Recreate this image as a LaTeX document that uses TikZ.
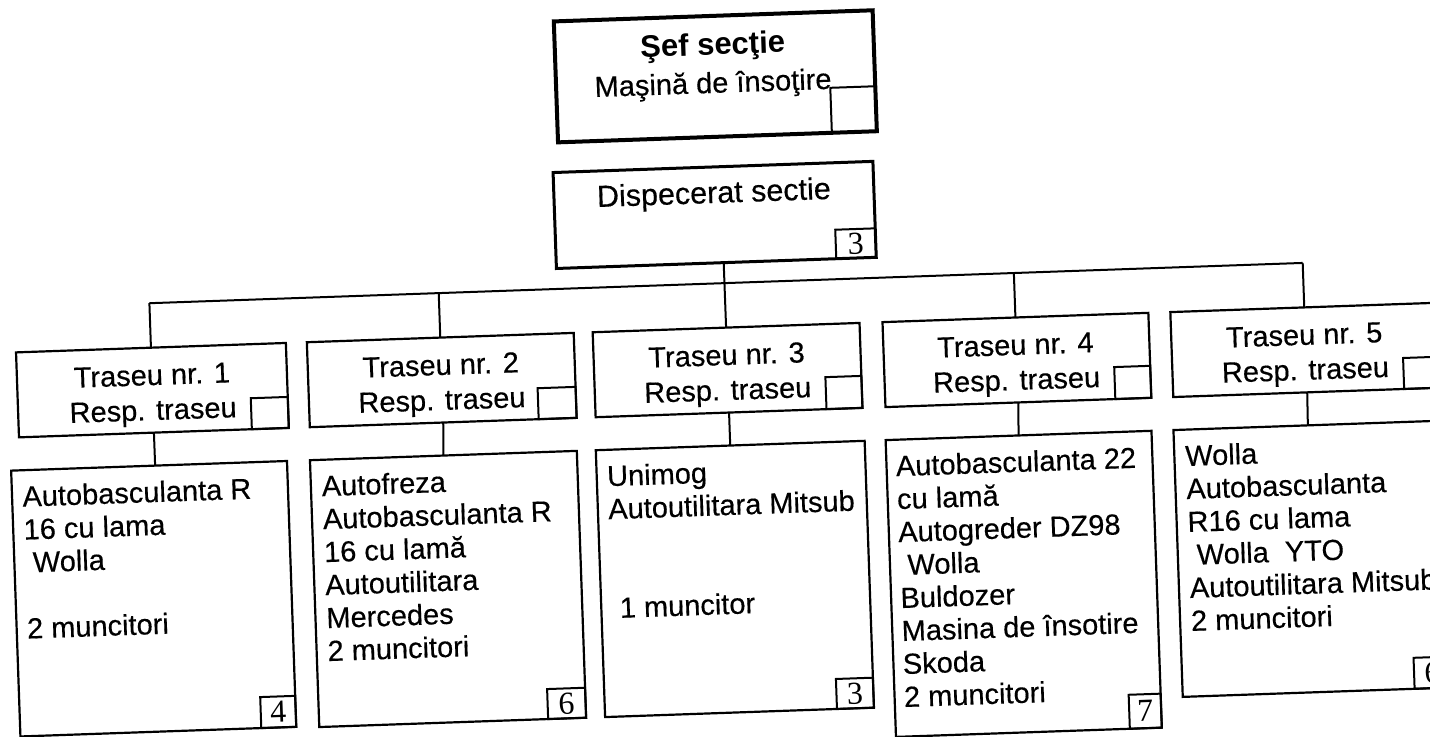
\documentclass[tikz,border=0pt]{standalone}
\usepackage{fontspec}
\setmainfont{Liberation Sans}
\newfontfamily\txt{Liberation Sans}[FakeBold=0.35]
\newfontfamily\numfont{Liberation Serif}
\usetikzlibrary{calc}
\begin{document}
\begin{tikzpicture}[x=0.5pt,y=-0.5pt,
  box/.style={draw, line width=1.1pt, inner sep=0pt, outer sep=0pt},
  sq/.style={draw, line width=1pt, inner sep=0pt, outer sep=0pt, anchor=south east},
  numbox/.style={sq, font=\numfont\fontsize{16}{16}\selectfont},
  body/.style={inner sep=0pt, font=\txt\fontsize{14.5}{16.5}\selectfont, align=left, anchor=north west},
  head/.style={inner sep=0pt, font=\txt\fontsize{14.5}{17.5}\selectfont, align=center, anchor=north},
  link/.style={line width=1pt}]
\useasboundingbox (0,0) rectangle (1430,736);
\clip (0,0) rectangle (1430,736);
\begin{scope}[rotate around={2:(715,368)}, transform shape]
% top boxes
\node[box, line width=2pt, minimum width=159.5pt, minimum height=60.5pt] (sef) at (725.5,76.5) {};
\node[sq, minimum width=22.5pt, minimum height=22.5pt] (sefsq) at (sef.south east) {};
\node[inner sep=0pt, anchor=base, font=\bfseries\fontsize{15.5}{18}\selectfont] (sefT) at (724,55) {Şef secţie};
\node[inner sep=0pt, anchor=base, font=\txt\fontsize{14.5}{17}\selectfont] (sefM) at (723,93) {Maşină de însoţire};

\node[box, line width=1.5pt, minimum width=160pt, minimum height=48pt] (disp) at (720,215) {};
\node[numbox, minimum width=20pt, minimum height=14.5pt] (dispn) at (disp.south east) {3};
\node[inner sep=0pt, anchor=base, font=\txt\fontsize{15.25}{18}\selectfont] (dispT) at (720,203) {Dispecerat sectie};

% route boxes
\node[box, minimum width=135pt, minimum height=42.5pt] (t1) at (152,370.5) {};
\node[box, minimum width=133.5pt, minimum height=42.5pt] (t2) at (441.5,370.5) {};
\node[box, minimum width=133.5pt, minimum height=42.5pt] (t3) at (727.5,370.5) {};
\node[box, minimum width=133pt, minimum height=42.5pt] (t4) at (1017,370.5) {};
\node[box, minimum width=134pt, minimum height=42.5pt] (t5) at (1306,370.5) {};
\node[sq, minimum width=18.5pt, minimum height=15.5pt] (t1s) at (t1.south east) {};
\node[sq, minimum width=19pt, minimum height=15.5pt] (t2s) at (t2.south east) {};
\node[sq, minimum width=18pt, minimum height=16pt] (t3s) at (t3.south east) {};
\node[sq, minimum width=18pt, minimum height=16pt] (t4s) at (t4.south east) {};
\node[sq, minimum width=18.5pt, minimum height=15.5pt] (t5s) at (t5.south east) {};
\node[head] (t1T) at (152,341) {\rule{0pt}{12pt}Traseu nr. 1\\Resp. traseu};
\node[head] (t2T) at (441,341) {\rule{0pt}{12pt}Traseu nr. 2\\Resp. traseu};
\node[head] (t3T) at (727,341) {\rule{0pt}{12pt}Traseu nr. 3\\Resp. traseu};
\node[head] (t4T) at (1016,341) {\rule{0pt}{12pt}Traseu nr. 4\\Resp. traseu};
\node[head] (t5T) at (1305,341) {\rule{0pt}{12pt}Traseu nr. 5\\Resp. traseu};

% equipment boxes
\node[box, minimum width=138pt, minimum height=133pt] (b1) at (146,579) {};
\node[box, minimum width=133.5pt, minimum height=133.5pt] (b2) at (440.5,579.5) {};
\node[box, minimum width=134.5pt, minimum height=133.5pt] (b3) at (727.5,579.5) {};
\node[box, minimum width=133pt, minimum height=148.5pt] (b4) at (1016,594.5) {};
\node[box, minimum width=134.5pt, minimum height=133.5pt] (b5) at (1305.5,579.5) {};
\node[numbox, minimum width=17.5pt, minimum height=15.5pt] (n1) at (b1.south east) {4};
\node[numbox, minimum width=19pt, minimum height=15pt] (n2) at (b2.south east) {6};
\node[numbox, minimum width=18.5pt, minimum height=15pt] (n3) at (b3.south east) {3};
\node[numbox, minimum width=16pt, minimum height=17pt] (n4) at (b4.south east) {7};
\node[numbox, minimum width=18.5pt, minimum height=15.5pt] (n5) at (b5.south east) {6};

\node[body] (b1T) at (18,458) {\rule{0pt}{12pt}Autobasculanta R\\16 cu lama\\\hspace*{.28em}Wolla\\[16.5pt]2 muncitori};
\node[body] (b2T) at (317.5,458) {\rule{0pt}{12pt}Autofreza\\Autobasculanta R\\16 cu lamă\\Autoutilitara\\Mercedes\\2 muncitori};
\node[body] (b3T) at (603,458) {\rule{0pt}{12pt}Unimog\\Autoutilitara Mitsub\\[33pt]\hspace*{.28em}1 muncitor};
\node[body] (b4T) at (892,458) {\rule{0pt}{12pt}Autobasculanta 22\\cu lamă\\Autogreder DZ98\\\hspace*{.28em}Wolla\\Buldozer\\Masina de însotire\\Skoda\\2 muncitori};
\node[body] (b5T) at (1181.5,458) {\rule{0pt}{12pt}Wolla\\Autobasculanta\\R16 cu lama\\\hspace*{.28em}Wolla\hspace{.56em}YTO\\Autoutilitara Mitsub\\2 muncitori};

% connectors
\coordinate (bus1) at (152,283.5);
\coordinate (bus2) at (441.5,283.5);
\coordinate (bus4) at (1017,283.5);
\coordinate (bus5) at (1306,283.5);
\draw[link] (bus1) -- (bus5);
\draw[link] (t1.north) -- (bus1);
\draw[link] (t2.north) -- (bus2);
\draw[link] (t4.north) -- (bus4);
\draw[link] (t5.north) -- (bus5);
\draw[link] (t3.north) -- ($(disp.south west)!0.523!(disp.south east)$);
\draw[link] (t1.south) -- ($(b1.north west)!0.522!(b1.north east)$);
\draw[link] (t2.south) -- (b2.north);
\draw[link] (t3.south) -- (b3.north);
\draw[link] (t4.south) -- (b4.north);
\draw[link] (t5.south) -- (b5.north);
\end{scope}
\end{tikzpicture}
\end{document}
